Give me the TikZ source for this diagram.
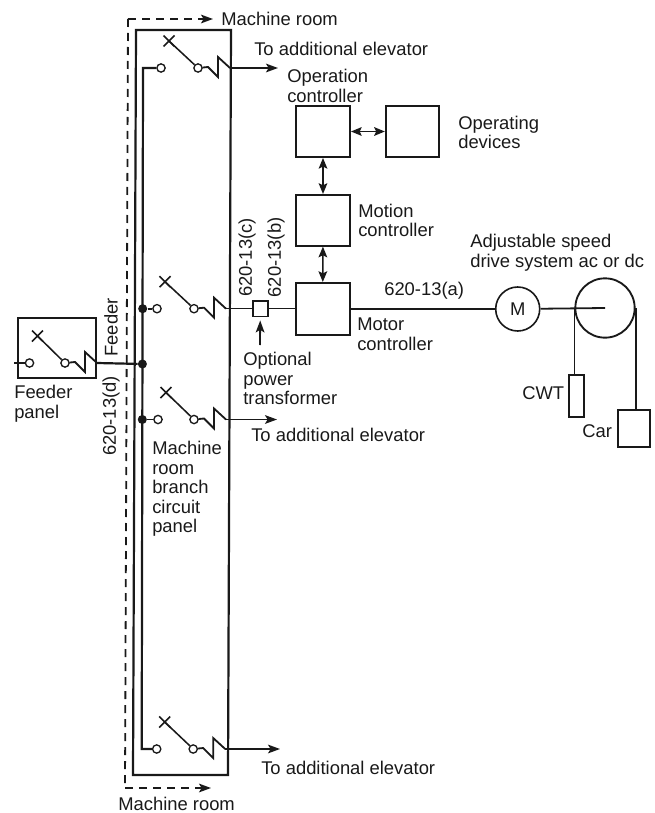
\documentclass[tikz,border=0pt]{standalone}
\usepackage{fontspec}
\setmainfont{Liberation Sans}
\usetikzlibrary{arrows.meta}
\tikzset{
  wire/.style={line width=1.35pt,black!90},
  heavy/.style={line width=1.65pt,black!90},
  thin wire/.style={line width=1.15pt,black!90},
  term/.style={circle,draw,line width=1pt,black!90,fill=white,inner sep=0pt,minimum size=6.2pt},
  jdot/.style={circle,fill=black!90,inner sep=0pt,minimum size=6.8pt},
  unitbox/.style={rectangle,draw,line width=1.5pt,black!90,inner sep=0pt},
  lab/.style={anchor=west,inner sep=0pt,align=left,text=black!90,font=\fontsize{13.8}{14.7}\selectfont},
  vlab/.style={rotate=90,inner sep=0pt,text=black!90,font=\fontsize{13.8}{14.7}\selectfont},
  arr/.style={-{Stealth[length=9pt,width=6.5pt,inset=2pt]}},
  biarr/.style={{Stealth[length=8pt,width=6.5pt,inset=1.5pt]}-{Stealth[length=8pt,width=6.5pt,inset=1.5pt]}},
  breaker/.pic={
    \node[term] (-l) at (0,0) {};
    \node[term] (-r) at (#1,0) {};
    \coordinate (-x) at (8,-27);
    \coordinate (-e) at (#1+32,0);
    \draw[thin wire] (-x) -- (-r);
    \draw[thin wire] (8-5.5,-27-5.5) -- (8+5.5,-27+5.5) (8-5.5,-27+5.5) -- (8+5.5,-27-5.5);
    \draw[wire,line join=miter] (-r) -- (#1+10,-1) -- (#1+20,9) -- (#1+20,-11) -- (-e);
  }
}
\begin{document}
\begin{tikzpicture}[x=.75pt,y=-.75pt]
\useasboundingbox (0,0) rectangle (655,813);
% panel and room outline
\coordinate (p1) at (136,30);
\coordinate (p2) at (231,30);
\coordinate (p3) at (228,775);
\coordinate (p4) at (133,775);
\draw[heavy] (p1) -- (p2) -- (p3) -- (p4) -- cycle;
\node[lab] (mrtop) at (221,19) {Machine room};
\node[lab] (mrbot) at (118,804) {Machine room};
\coordinate (d1) at (128,19);
\coordinate (d2) at (125,788);
\coordinate (d3) at (213,19);
\coordinate (d4) at (211,788);
\draw[wire,dashed,dash pattern=on 6pt off 4.5pt] (d1) -- (d2);
\draw[wire,dashed,dash pattern=on 6pt off 4.5pt,arr] (d1) -- (d3);
\draw[wire,dashed,dash pattern=on 6pt off 4.5pt,arr] (d2) -- (d4);
% switches
\pic (sa) at (161,68) {breaker=37};
\pic (sb) at (157,308.7) {breaker=37};
\pic (sc) at (158,419.5) {breaker=36};
\pic (sd) at (156.7,749) {breaker=36.5};
\pic (sf) at (29.5,363) {breaker=35.5};
% bus
\coordinate (bust) at (143,68);
\coordinate (busb) at (141.7,749);
\draw[heavy] (sa-l) -- (bust) -- (busb) -- (sd-l);
\node[jdot] (j1) at (142.7,308.7) {};
\node[jdot] (j2) at (142.4,364) {};
\node[jdot] (j3) at (142.3,419.5) {};
\draw[wire] (j1) -- (sb-l);
\draw[wire] (j3) -- (sc-l);
% feeder
\node[unitbox,minimum width=58.5pt,minimum height=45pt] (fp) at (57,348) {};
\coordinate (fs) at (14,363);
\draw[wire] (fs) -- (sf-l);
\draw[heavy] (sf-e) -- (j2);
% boxes
\node[unitbox,minimum width=40.5pt,minimum height=38.2pt] (op) at (323,131.5) {};
\node[unitbox,minimum width=40pt,minimum height=38.2pt] (dev) at (412.5,131.5) {};
\node[unitbox,minimum width=40.5pt,minimum height=38pt] (mot) at (323,220.3) {};
\node[unitbox,minimum width=40.5pt,minimum height=39pt] (mc) at (322.7,309) {};
\draw[thin wire,biarr] (op) -- (dev);
\draw[thin wire,biarr] (op) -- (mot);
\draw[thin wire,biarr] (mot) -- (mc);
% transformer
\node[unitbox,line width=1.1pt,minimum width=11.2pt,minimum height=11.5pt] (tr) at (260.3,308.7) {};
\draw[thin wire] (sb-e) -- (tr);
\draw[thin wire] (tr) -- (mc.west |- tr);
\node[lab] (optp) at (243,378.5) {Optional\\power\\transformer};
\coordinate (trf) at (260,345);
\draw[wire,shorten >=2.5pt,-{Stealth[length=9pt,width=6.5pt,inset=2pt]}] (trf) -- (tr);
% outgoing
\coordinate (oa) at (278,68);
\coordinate (oc) at (277,419.5);
\coordinate (od) at (280,749);
\draw[wire,arr] (sa-e) -- (oa);
\draw[wire,arr] (sc-e) -- (oc);
\draw[wire,arr] (sd-e) -- (od);
% motor and sheave
\node[circle,draw,line width=1.2pt,black!90,minimum size=33pt,inner sep=0pt,text=black!90,font=\fontsize{13.8}{14.7}\selectfont] (m) at (517.7,309) {M};
\node[circle,draw,line width=1.4pt,black!90,minimum size=44.5pt,inner sep=0pt] (sh) at (605,308) {};
\draw[heavy] (mc.east |- m) -- (m);
\draw[wire] (m) -- (sh.center);
\node[unitbox,line width=1.2pt,minimum width=11.5pt,minimum height=31.5pt] (cwt) at (576.5,396) {};
\node[unitbox,line width=1.2pt,minimum width=24pt,minimum height=27.5pt] (car) at (634,428.5) {};
\draw[wire] (sh.west) -- (sh.west |- cwt.north);
\draw[wire] (sh.east) -- (sh.east |- car.north);
% labels
\node[lab] (l1) at (254,49) {To additional elevator};
\node[lab] (l2) at (251,435) {To additional elevator};
\node[lab] (l3) at (261,768) {To additional elevator};
\node[lab] (l4) at (287,86) {Operation\\controller};
\node[lab] (l5) at (458,132.5) {Operating\\devices};
\node[lab] (l6) at (358,220.5) {Motion\\controller};
\node[lab] (l7) at (470,252.5) {Adjustable speed\\drive system ac or dc};
\node[lab] (l8) at (384,291) {620-13(a)};
\node[lab] (l9) at (357,334.5) {Motor\\controller};
\node[lab] (l10) at (14,403.5) {Feeder\\panel};
\node[lab] (l11) at (152,489) {Machine\\room\\branch\\circuit\\panel};
\node[lab] (l12) at (522,393) {CWT};
\node[lab] (l13) at (582,431) {Car};
\node[vlab] (v1) at (247,257.5) {620-13(c)};
\node[vlab] (v2) at (276,257.5) {620-13(b)};
\node[vlab] (v3) at (111,327.5) {Feeder};
\node[vlab] (v4) at (111,416) {620-13(d)};
\end{tikzpicture}
\end{document}
